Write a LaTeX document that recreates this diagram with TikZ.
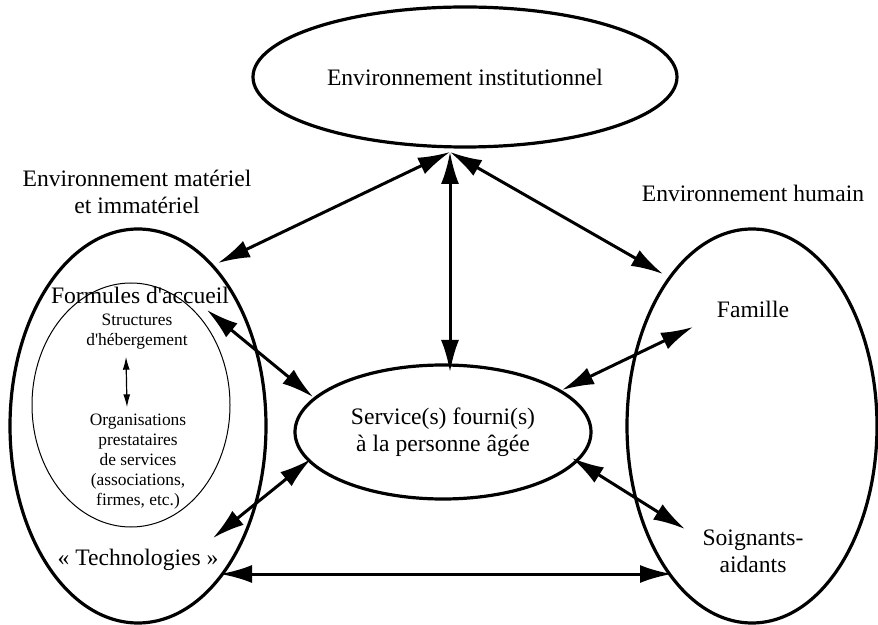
\documentclass[tikz,border=0pt]{standalone}
\usepackage{fontspec}
\setmainfont{Liberation Serif}
\usetikzlibrary{shapes.geometric,arrows.meta}

\begin{document}
\begin{tikzpicture}[x=0.5pt,y=-0.5pt,
    envir/.style={draw, ellipse, line width=1.6pt, inner sep=0pt},
    link/.style={arrows={Latex[length=16pt,width=9pt]-Latex[length=16pt,width=9pt]}, line width=1.5pt},
    sublink/.style={arrows={Latex[length=6.5pt,width=3.5pt]-Latex[length=6.5pt,width=3.5pt]}, line width=0.6pt},
    big/.style={font=\fontsize{11.8}{13.5}\selectfont, align=center},
    small/.style={font=\fontsize{8.7}{10}\selectfont, align=center}]
  \useasboundingbox (0,0) rectangle (878,625);
  % ellipses
  \node[envir, big, minimum width=212pt, minimum height=70pt] (inst) at (465,77) {Environnement institutionnel};
  \node[envir, minimum width=128pt, minimum height=197pt] (mat) at (138,426) {};
  \node[envir, minimum width=125pt, minimum height=197pt] (hum) at (752,426) {};
  \node[draw, ellipse, line width=0.5pt, minimum width=99pt, minimum height=122pt] (acc) at (131,405) {};
  \node[envir, big, minimum width=148pt, minimum height=67pt] (svc) at (443,432) {Service(s) fourni(s)\\à la personne âgée};
  % labels
  \node[big] (matlbl) at (137,192) {Environnement matériel\\et immatériel};
  \node[big] (humlbl) at (753,193) {Environnement humain};
  \node[big] (fam) at (753,309) {Famille};
  \node[big] (soi) at (753,551) {Soignants-\\aidants};
  \node[big] (form) at (140,295) {Formules d\textquotesingle accueil};
  \node[small] (heb) at (137,332) {Structures\\d\textquotesingle hébergement};
  \node[small] (org) at (138,462) {Organisations\\prestataires\\de services\\(associations,\\firmes, etc.)};
  \node[big] (tech) at (138,560) {«~Technologies~»};
  % arrow ends
  \coordinate (hub) at (450,152);
  \coordinate (matN) at (218,263);
  \coordinate (humN) at (663,274);
  \coordinate (svcN) at (450,372);
  \coordinate (formE) at (207,310);
  \coordinate (svcW1) at (313,397);
  \coordinate (techE) at (213,538);
  \coordinate (svcW2) at (311,459);
  \coordinate (famW) at (693,327);
  \coordinate (svcE1) at (562,390);
  \coordinate (soiW) at (685,529);
  \coordinate (svcE2) at (572,458);
  \coordinate (techS) at (220,574);
  \coordinate (soiS) at (672,574);
  % arrows
  \draw[link] (matN) -- (hub);
  \draw[link] (humN) -- (hub);
  \draw[link] (svcN) -- (hub);
  \draw[link] (formE) -- (svcW1);
  \draw[link] (techE) -- (svcW2);
  \draw[link] (famW) -- (svcE1);
  \draw[link] (soiW) -- (svcE2);
  \draw[link] (techS) -- (soiS);
  \draw[sublink] ([xshift=-5.5pt]heb.south) -- ([xshift=-5.5pt]org.north);
\end{tikzpicture}
\end{document}
